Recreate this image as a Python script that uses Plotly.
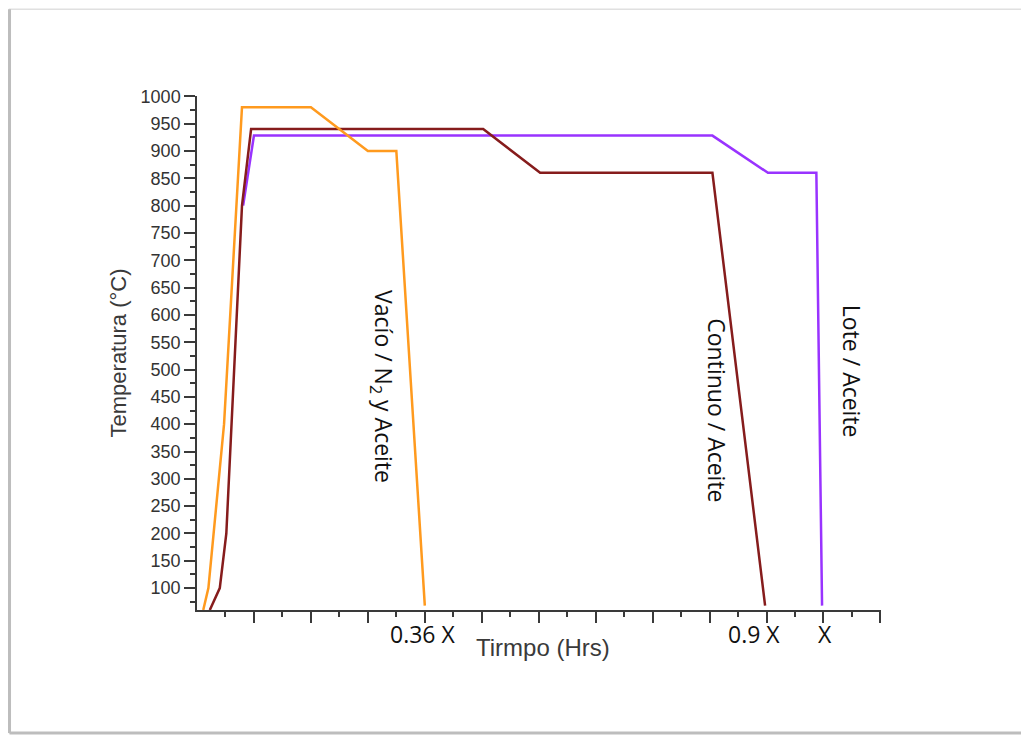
import plotly.graph_objects as go

# Time axis in tick units (one unit = one minor tick); marked points 0.36 X, 0.9 X, X
vacio_x = [0.22, 0.4, 0.95, 1.58, 4.0, 6.0, 7.0, 8.0]
vacio_y = [60, 100, 400, 980, 980, 900, 900, 68]

continuo_x = [0.45, 0.8, 1.03, 1.58, 1.9, 10.05, 12.05, 18.1, 19.95]
continuo_y = [60, 100, 200, 800, 940, 940, 860, 860, 68]

lote_x = [1.62, 2.0, 18.1, 20.05, 21.75, 21.95]
lote_y = [800, 928, 928, 860, 860, 68]

series_names = ["Lote / Aceite", "Continuo / Aceite", "Vacío / N<sub>2</sub> y Aceite"]
x_tick_labels = ["0.36 X", "0.9 X", "X"]
y_tick_values = list(range(100, 1001, 50))

fig = go.Figure()
fig.add_trace(go.Scatter(x=lote_x, y=lote_y, mode="lines", name=series_names[0],
                         line=dict(color="#9933ff", width=2.5)))
fig.add_trace(go.Scatter(x=continuo_x, y=continuo_y, mode="lines", name=series_names[1],
                         line=dict(color="#861c1c", width=2.5)))
fig.add_trace(go.Scatter(x=vacio_x, y=vacio_y, mode="lines", name=series_names[2],
                         line=dict(color="#ff9a1e", width=2.5)))

axis_col = "#3a3a3a"
fig.update_xaxes(
    range=[0, 24.02], showgrid=False, zeroline=False,
    showline=True, linecolor=axis_col, linewidth=1.5,
    tickmode="array", tickvals=list(range(2, 25, 2)), showticklabels=False,
    ticks="outside", ticklen=11, tickwidth=1.5, tickcolor=axis_col,
    minor=dict(tickmode="array", tickvals=list(range(1, 24, 2)), ticks="outside",
               ticklen=5, tickwidth=1.5, tickcolor=axis_col),
)
fig.update_yaxes(
    range=[60, 1000.5], showgrid=False, zeroline=False,
    showline=True, linecolor=axis_col, linewidth=1.5,
    tickmode="array", tickvals=y_tick_values,
    ticks="outside", ticklen=11, tickwidth=1.5, tickcolor=axis_col,
    tickfont=dict(family="Liberation Sans, Arial", size=18, color="#333333"),
    minor=dict(tickmode="array", tickvals=list(range(75, 1000, 50)), ticks="outside",
               ticklen=5, tickwidth=1.5, tickcolor=axis_col),
    title=dict(text="Temperatura (°C)", standoff=8,
               font=dict(family="Liberation Sans, Arial", size=22, color="#3a3a3a")),
)

annotations = []
for txt, xp in zip(x_tick_labels, [7.93, 19.55, 22.07]):
    annotations.append(dict(x=xp, y=-0.047, xref="x", yref="paper", text=txt,
                            showarrow=False, xanchor="center", yanchor="middle",
                            font=dict(family="Open Sans", size=23, color="#111111")))
annotations.append(dict(x=(543 - 197) / 684, y=-0.072, xref="paper", yref="paper",
                        text="Tirmpo (Hrs)", showarrow=False, yanchor="middle",
                        font=dict(family="Liberation Sans, Arial", size=24, color="#3a3a3a")))
for txt, xp, yp in zip([series_names[2], series_names[1], series_names[0]],
                       [6.53, 18.25, 22.98], [468, 426, 497]):
    annotations.append(dict(x=xp, y=yp, xref="x", yref="y", text=txt, textangle=90,
                            showarrow=False, xanchor="center", yanchor="middle",
                            font=dict(family="Open Sans", size=23, color="#111111")))

shapes = [
    dict(type="rect", xref="paper", yref="paper", x0=-0.2741, x1=1.2325, y0=-0.2393, y1=1.169,
         line=dict(color="#e0e0e0", width=1.5), layer="below"),
    dict(type="line", xref="paper", yref="paper", x0=-0.2741, x1=-0.2741, y0=-0.2393, y1=1.169,
         line=dict(color="#bdbdbd", width=3)),
    dict(type="line", xref="paper", yref="paper", x0=-0.2741, x1=1.2325, y0=-0.2393, y1=-0.2393,
         line=dict(color="#bdbdbd", width=3)),
]

# page body has an 8px margin; plot area sits at x 197..881, y 96..610 in the page
fig.update_layout(
    width=1021, height=728,
    margin=dict(l=189, r=148, t=88, b=126, autoexpand=False),
    paper_bgcolor="white", plot_bgcolor="white",
    showlegend=False,
    annotations=annotations, shapes=shapes,
)

fig.write_html("out.html")
